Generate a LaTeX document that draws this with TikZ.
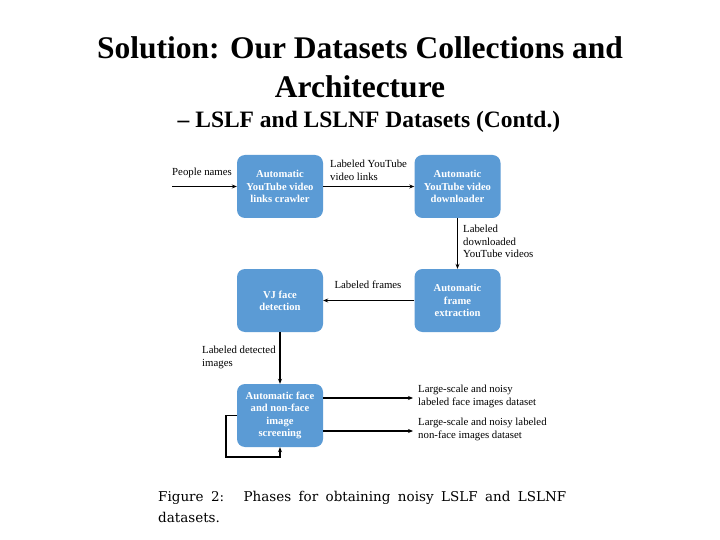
\documentclass[tikz,border=0pt]{standalone}
\usepackage{fontspec}
\setmainfont{Liberation Serif}
\newfontfamily\capfont{DejaVu Serif}
\usetikzlibrary{arrows.meta}
\definecolor{boxblue}{HTML}{5B9BD5}
\tikzset{
  stage/.style={draw=none, fill=boxblue, rounded corners=8pt, minimum width=86pt, minimum height=63pt,
    text=white, font=\fontsize{10.6}{12.3}\selectfont\bfseries, align=center, inner sep=1pt},
  lbl/.style={font=\fontsize{10.8}{12.5}\selectfont, align=left, inner sep=0pt, text=black},
  arr/.style={-{Stealth[length=5pt,width=4pt]}, line width=1.1pt, black}
}
\begin{document}
\begin{tikzpicture}[x=1pt,y=-1pt]
\useasboundingbox (0,0) rectangle (720,540);
\fill[white] (0,0) rectangle (720,540);
% title
\node[font=\fontsize{31.5}{39}\selectfont\bfseries, align=center] (title) at (360,67) {Solution: Our Datasets Collections and\\Architecture};
\node[font=\fontsize{23.5}{27}\selectfont\bfseries] (sub) at (369,122) {-- LSLF and LSLNF Datasets (Contd.)};
% stages
\node[stage] (b1) at (280,186.5) {Automatic\\YouTube video\\links crawler};
\node[stage] (b2) at (457.5,186.5) {Automatic\\YouTube video\\downloader};
\node[stage] (b3) at (280,300.5) {VJ face\\detection};
\node[stage] (b4) at (457.5,300.5) {Automatic\\frame\\extraction};
\node[stage] (b5) at (280,415.5) {Automatic face\\and non-face\\image\\screening};
% coordinates
\coordinate (in) at (172,186.5);
\coordinate (o1) at (413,398);
\coordinate (o2) at (413,431);
\coordinate (lc) at (226,457);
% connectors
\draw[arr] (in) -- (b1.west);
\draw[arr] (b1.east) -- (b2.west);
\draw[arr] (b2.south) -- (b4.north);
\draw[arr] (b4.west) -- (b3.east);
\draw[arr] (b3.south) -- (b5.north);
\draw[arr] (b5.east |- o1) -- (o1);
\draw[arr] (b5.east |- o2) -- (o2);
\draw[arr] (b5.west) -| (lc) -| (b5.south);
% labels
\node[lbl, anchor=west] (l1) at (172,173) {People names};
\node[lbl, anchor=north west] (l2) at (330,160) {Labeled YouTube\\video links};
\node[lbl, anchor=north west] (l3) at (463,225) {Labeled\\downloaded\\YouTube videos};
\node[lbl] (l4) at (368,285) {Labeled frames};
\node[lbl, anchor=north west] (l5) at (202,346) {Labeled detected\\images};
\node[lbl, anchor=north west] (l6) at (418,385) {Large-scale and noisy\\labeled face images dataset};
\node[lbl, anchor=north west] (l7) at (418,418) {Large-scale and noisy labeled\\non-face images dataset};
% caption
\node[anchor=north west, inner sep=0pt, font=\capfont\fontsize{13.5}{21}\selectfont, align=left] (cap) at (158,491)
  {\makebox[408pt][s]{Figure 2: \ Phases for obtaining noisy LSLF and LSLNF}\\datasets.};
\end{tikzpicture}
\end{document}
